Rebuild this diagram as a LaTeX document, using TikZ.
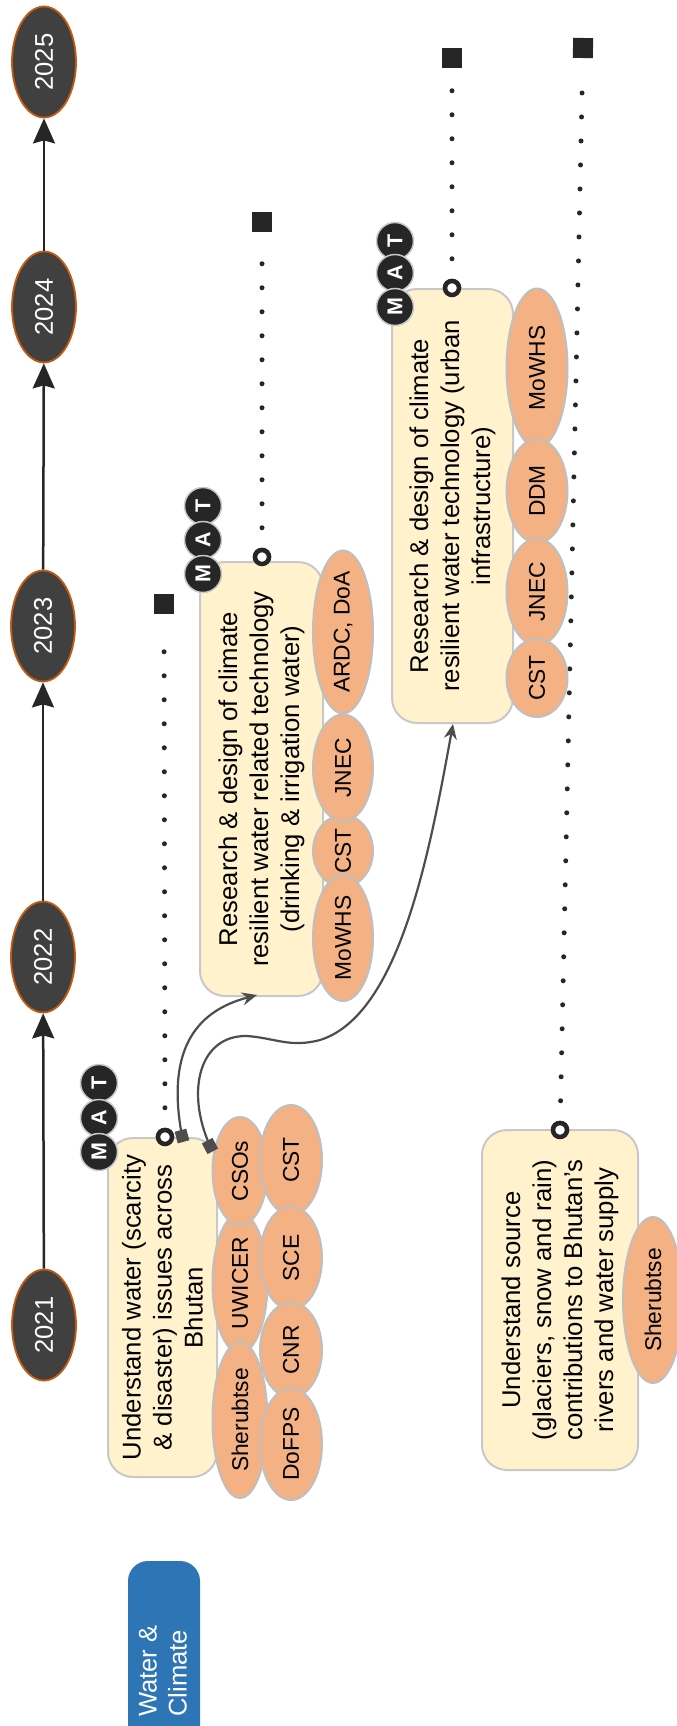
\documentclass[tikz,border=0pt]{standalone}
\usepackage{fontspec}
\setmainfont{Liberation Sans}
\usetikzlibrary{shapes.geometric,arrows.meta,calc}
\definecolor{yearfill}{HTML}{404040}
\definecolor{yearedge}{HTML}{C55A11}
\definecolor{boxfill}{HTML}{FFF2CC}
\definecolor{boxedge}{HTML}{C8C8C8}
\definecolor{orgfill}{HTML}{F4B183}
\definecolor{orgedge}{HTML}{BFBFBF}
\definecolor{darkc}{HTML}{262626}
\definecolor{conn}{HTML}{4D4D4D}
\definecolor{wcblue}{HTML}{2E75B6}
\begin{document}
\begin{tikzpicture}[x=1pt,y=-1pt,
  year/.style={ellipse, rotate=90, fill=yearfill, draw=yearedge, line width=1.8pt, minimum width=111pt, minimum height=64pt, inner sep=0pt, text=white, font=\fontsize{25.6}{30}\selectfont},
  task/.style={rectangle, rounded corners=25pt, rotate=90, fill=boxfill, draw=boxedge, line width=2pt, inner sep=0pt, align=center, font=\fontsize{25.7}{31}\selectfont},
  org/.style={ellipse, rotate=90, fill=orgfill, draw=orgedge, line width=2pt, inner sep=0pt, font=\fontsize{22.8}{27}\selectfont},
  mat/.style={circle, rotate=90, fill=darkc, draw=boxedge, line width=1.5pt, minimum size=37pt, inner sep=0pt, text=white, font=\fontsize{21.5}{21.5}\selectfont\bfseries},
  ocirc/.style={circle, draw=darkc, fill=white, line width=4.5pt, minimum size=14pt, inner sep=0pt},
  sqmark/.style={rectangle, fill=darkc, minimum size=20pt, inner sep=0pt},
  dotline/.style={darkc, line width=5pt, line cap=round, dash pattern=on 0pt off 24pt},
  tl/.style={darkc, line width=2.5pt, -{Stealth[width=22pt,length=25pt,inset=3pt]}},
  cn/.style={conn, line width=2.2pt, -{Stealth[length=15pt,width=13pt,inset=5pt]}},
  startbox/.style={rectangle, fill=conn, minimum size=12pt, inner sep=0pt},
  wcbox/.style={rectangle, rounded corners=20pt, fill=wcblue, minimum width=72pt, minimum height=200pt},
]
\useasboundingbox (0,0) rectangle (677,1726);

% ---------- timeline ----------
\node[year] (y2025) at (44,62) {2025};
\node[year] (y2024) at (44,307) {2024};
\node[year] (y2023) at (43,626) {2023};
\node[year] (y2022) at (43,957) {2022};
\node[year] (y2021) at (44,1325) {2021};
\draw[tl] (y2021) -- (y2022);
\draw[tl] (y2022) -- (y2023);
\draw[tl] (y2023) -- (y2024);
\draw[tl] (y2024) -- (y2025);

% ---------- dotted lines ----------
\node[sqmark] (s1) at (164,604) {};
\node[sqmark] (s2) at (262,222) {};
\node[sqmark] (s3) at (452,58) {};
\node[sqmark, rotate=-1.2] (s4) at (583,48) {};
\node[ocirc] (o1) at (165,1137) {};
\node[ocirc] (o2) at (262,557) {};
\node[ocirc] (o3) at (452,288) {};
\node[ocirc] (o4) at (560,1130) {};
\draw[dotline, shorten <=20pt, shorten >=16pt] (o1) -- (s1);
\draw[dotline, shorten <=20pt, shorten >=16pt] (o2) -- (s2);
\draw[dotline, shorten <=20pt, shorten >=16pt] (o3) -- (s3);
\draw[dotline, shorten <=20pt, shorten >=16pt] (o4) -- (s4);

% ---------- tasks ----------
\node[task, minimum width=339pt, minimum height=109pt] (b1) at (162.5,1307.5)
  {Understand water (scarcity\\\& disaster) issues across\\Bhutan};
\node[task, minimum width=434pt, minimum height=123pt] (b2) at (261.5,779)
  {Research \& design of climate\\resilient water related technology\\(drinking \& irrigation water)};
\node[task, minimum width=434pt, minimum height=121pt] (b3) at (452.5,506)
  {Research \& design of climate\\resilient water technology (urban\\infrastructure)};
\node[task, minimum width=340pt, minimum height=156pt] (b4) at (560,1300)
  {Understand source\\(glaciers, snow and rain)\\contributions to Bhutan’s\\rivers and water supply};

% redraw open circles on top of boxes
\node[ocirc] at (o1) {};
\node[ocirc] at (o2) {};
\node[ocirc] at (o3) {};
\node[ocirc] at (o4) {};

% ---------- organisations ----------
\node[org, minimum width=140pt, minimum height=55pt] (u1) at (240,1283) {UWICER};
\node[org, minimum width=156pt, minimum height=55pt] (sh1) at (240,1420) {Sherubtse};
\node[org, minimum width=108pt, minimum height=55pt] (cso) at (240,1171) {CSOs};
\node[org, minimum width=110pt, minimum height=62pt] (cst1) at (291,1160) {CST};
\node[org, minimum width=103pt, minimum height=62pt] (sce) at (291,1258) {SCE};
\node[org, minimum width=95pt, minimum height=62pt] (cnr) at (291,1350) {CNR};
\node[org, minimum width=112pt, minimum height=62pt] (dofps) at (291,1444) {DoFPS};

\node[org, minimum width=163pt, minimum height=60pt, inner xsep=-4pt] (ardc) at (343,632) {ARDC, DoA};
\node[org, minimum width=72pt, minimum height=60pt] (cst2) at (343,851) {CST};
\node[org, minimum width=107pt, minimum height=60pt] (jnec2) at (343,768) {JNEC};
\node[org, minimum width=126pt, minimum height=60pt] (mowhs2) at (343,938) {MoWHS};

\node[org, minimum width=159pt, minimum height=61pt] (mowhs3) at (537,368) {MoWHS};
\node[org, minimum width=104pt, minimum height=61pt] (ddm) at (537,491) {DDM};
\node[org, minimum width=107pt, minimum height=61pt] (jnec3) at (537,592) {JNEC};
\node[org, minimum width=78pt, minimum height=61pt] (cst3) at (537,678) {CST};

\node[org, minimum width=166pt, minimum height=60pt] (sh4) at (653,1300) {Sherubtse};

% ---------- M A T markers ----------
\node[mat] (t1) at (99,1083) {T};
\node[mat] (a1) at (99,1118) {A};
\node[mat] (m1) at (99,1152) {M};
\node[mat] (t2) at (203,506) {T};
\node[mat] (a2) at (203,540) {A};
\node[mat] (m2) at (203,574) {M};
\node[mat] (t3) at (395,241) {T};
\node[mat] (a3) at (395,273) {A};
\node[mat] (m3) at (395,307) {M};

% ---------- connectors ----------
\coordinate (c1s) at (182,1136);
\coordinate (c2s) at (210,1146);
\coordinate (e1) at (257,995);
\coordinate (e2) at (453,724);
\draw[cn] (c1s) .. controls (165,1045) and (200,1010) .. (e1);
\draw[cn] (c2s) .. controls (185,1090) and (200,1035) .. (247,1036)
  .. controls (275,1038) and (290,1048) .. (320,1040)
  .. controls (400,1015) and (430,850) .. (e2);
\node[startbox, rotate=15] (d1) at (c1s) {};
\node[startbox, rotate=28] (d2) at (c2s) {};

% ---------- category label ----------
\begin{scope}
\clip (0,0) rectangle (677,1726);
\node[wcbox] (wc) at (164,1661) {};
\end{scope}
\node[rotate=90, anchor=west, align=left, inner sep=0pt, text=white, font=\fontsize{25.6}{30}\selectfont] (wct) at (163,1717) {Water \&\\Climate};
\end{tikzpicture}
\end{document}
